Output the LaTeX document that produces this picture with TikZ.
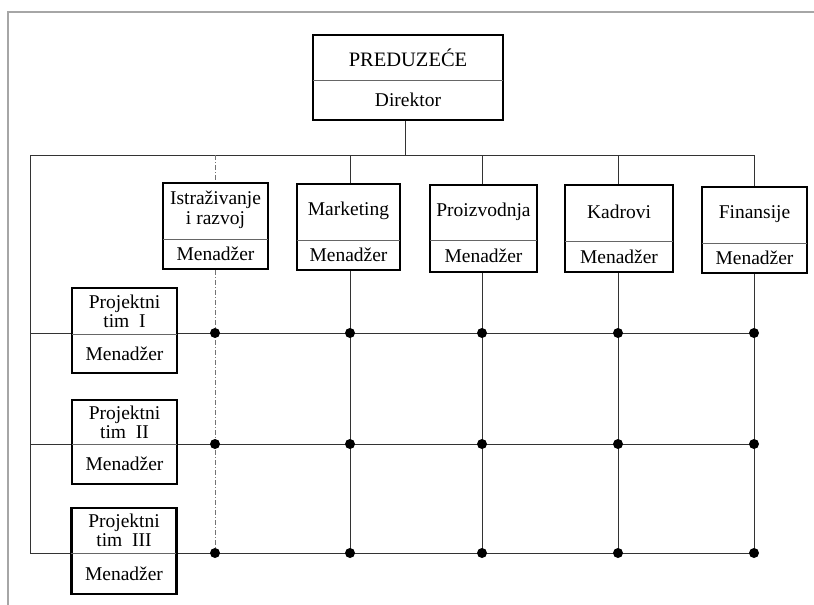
\documentclass[tikz,border=0pt]{standalone}
\usepackage{fontspec}
\setmainfont{Liberation Serif}
\begin{document}
\begin{tikzpicture}[x=1pt,y=-1pt,
  box/.style={draw, line width=2.1pt, fill=white, inner sep=0pt, minimum width=#1},
  box/.default=105pt,
  lbl/.style={font=\fontsize{19.5}{22}\selectfont, inner sep=0pt, align=center, text=black},
  wire/.style={line width=1pt, black!80},
  faint/.style={line width=0.8pt, black!55, dash pattern=on 5pt off 2pt on 1pt off 2pt},
  divline/.style={line width=0.8pt, black!60},
  jdot/.style={circle, fill=black, inner sep=0pt, minimum size=10pt},
  frame/.style={line width=1.6pt, black!35}]
\useasboundingbox (0,0) rectangle (814,605);
% page frame
\draw[frame] (8,605) -- (8,12) -- (814,12);

% ---------- coordinates ----------
\coordinate (busL) at (30,155);
\coordinate (busR) at (754,155);
\coordinate (busTop) at (405,155);
\foreach \n/\x in {c1/215,c2/350,c3/482,c4/618,c5/754}{
  \coordinate (\n bus) at (\x,155);
}
\foreach \r/\y in {r1/333,r2/444,r3/553}{
  \coordinate (\r L) at (30,\y);
}

% ---------- top box ----------
\node[box=190pt, minimum height=85pt] (top) at (408,77.5) {};
\draw[divline] (313,80) -- (503,80);
\node[lbl, font=\fontsize{20.5}{22}\selectfont] (topt) at (408,58) {PREDUZEĆE};
\node[lbl] (topd) at (408,100) {Direktor};

% ---------- department boxes ----------
\node[box=105pt, minimum height=86pt] (d1) at (215.5,226) {};
\node[box=103pt, minimum height=86pt] (d2) at (348.5,227) {};
\node[box=107pt, minimum height=87pt] (d3) at (483.5,228.5) {};
\node[box=108pt, minimum height=87pt] (d4) at (619,228.5) {};
\node[box=105pt, minimum height=86pt] (d5) at (754.5,230) {};
\draw[divline] (163,239) -- (268,239);
\draw[divline] (297,240) -- (400,240);
\draw[divline] (430,240) -- (537,240);
\draw[divline] (565,241) -- (673,241);
\draw[divline] (702,243) -- (807,243);
\node[lbl] (d1t) at (215.5,210) {Istraživanje\\[-2pt]i razvoj};
\node[lbl] (d2t) at (348.5,211) {Marketing};
\node[lbl] (d3t) at (483.5,212) {Proizvodnja};
\node[lbl] (d4t) at (619,212) {Kadrovi};
\node[lbl] (d5t) at (754.5,214) {Finansije};
\node[lbl] (d1m) at (215.5,254) {Menadžer};
\node[lbl] (d2m) at (348.5,255) {Menadžer};
\node[lbl] (d3m) at (483.5,256) {Menadžer};
\node[lbl] (d4m) at (619,257) {Menadžer};
\node[lbl] (d5m) at (754.5,258) {Menadžer};

% ---------- grid coordinates ----------
\foreach \n/\x in {c1/215,c2/350,c3/482,c4/618,c5/754}{
  \foreach \r/\y in {r1/333,r2/444,r3/553}{
    \coordinate (\n\r) at (\x,\y);
  }
}

% ---------- connectors ----------
\draw[wire] (top.south -| busTop) -- (busTop);
\draw[wire] (busL) -- (busR);
\draw[wire] (busL) -- (r3L);
\draw[faint] (c1bus) -- (d1.north -| c1bus);
\draw[wire] (c2bus) -- (d2.north -| c2bus);
\draw[wire] (c3bus) -- (d3.north -| c3bus);
\draw[wire] (c4bus) -- (d4.north -| c4bus);
\draw[wire] (c5bus) -- (d5.north -| c5bus);
\draw[faint] (d1.south -| c1bus) -- (c1r3);
\draw[wire] (d2.south -| c2bus) -- (c2r3);
\draw[wire] (d3.south -| c3bus) -- (c3r3);
\draw[wire] (d4.south -| c4bus) -- (c4r3);
\draw[wire] (d5.south -| c5bus) -- (c5r3);
\draw[wire] (r1L) -- (c5r1);
\draw[wire] (r2L) -- (c5r2);
\draw[wire] (r3L) -- (c5r3);

% ---------- project boxes ----------
\node[box=105pt, minimum height=85pt] (p1) at (124.5,330.5) {};
\node[box=105pt, minimum height=84pt] (p2) at (124.5,442) {};
\node[box=105pt, minimum height=86pt] (p3) at (124,551) {};
\draw[divline] (72,334) -- (177,334);
\draw[divline] (72,444) -- (177,444);
\draw[divline] (71,553) -- (176,553);
\node[lbl] (p1t) at (124.5,311) {Projektni\\[-3pt]tim\enspace I};
\node[lbl] (p2t) at (124.5,422) {Projektni\\[-3pt]tim\enspace II};
\node[lbl] (p3t) at (124,530) {Projektni\\[-3pt]tim\enspace III};
\node[lbl] (p1m) at (124.5,354) {Menadžer};
\node[lbl] (p2m) at (124.5,464) {Menadžer};
\node[lbl] (p3m) at (124,574) {Menadžer};

% ---------- junction dots ----------
\foreach \n in {c1,c2,c3,c4,c5}{
  \foreach \r in {r1,r2,r3}{
    \node[jdot] (j\n\r) at (\n\r) {};
  }
}
\end{tikzpicture}
\end{document}
